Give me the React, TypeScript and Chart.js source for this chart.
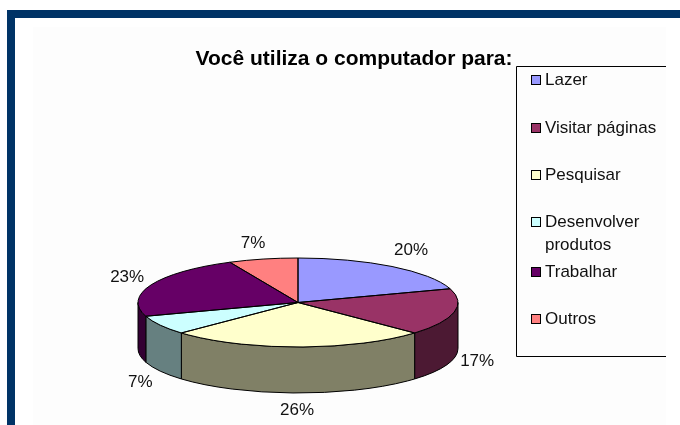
import React, { useEffect, useRef } from "react";
import { Chart, registerables } from "chart.js";

Chart.register(...registerables);

const categories = ["Lazer", "Visitar páginas", "Pesquisar", "Desenvolver produtos", "Trabalhar", "Outros"];
const legendLines = [["Lazer"], ["Visitar páginas"], ["Pesquisar"], ["Desenvolver", "produtos"], ["Trabalhar"], ["Outros"]];
const shares = [20, 17, 26, 7, 23, 7];
const topColors = ["#9999FF", "#993366", "#FFFFCC", "#CCFFFF", "#660066", "#FF8080"];
const sideColors = ["#4C4C80", "#4C1933", "#808066", "#668080", "#330033", "#804040"];

const titleText = "Você utiliza o computador para:";
const FONT = '"Liberation Sans", Arial, sans-serif';
const INK = "#111111";
const pieCenterY = 302.5;
const pieRadiusY = 44.5;
const pieDepth = 46;
const labelOffsets = [[19, -16], [23, 49], [-1, 63.5], [-20, 57], [-24, -8], [-10, -16]];
const legendRowsY = [80, 128, 175, 222, 272, 319];

function ellipsePoint(arc: any, angle: number) {
  return [arc.x + arc.outerRadius * Math.cos(angle), pieCenterY + pieRadiusY * Math.sin(angle)];
}

const framePlugin = {
  id: "frame",
  beforeDraw(chart: any) {
    const { ctx, width, height } = chart;
    ctx.save();
    ctx.fillStyle = "#ffffff";
    ctx.fillRect(0, 0, width, height);
    ctx.fillStyle = "#fdfdfd";
    ctx.fillRect(33, 27, 633, height - 27);
    ctx.fillStyle = "#003366";
    ctx.fillRect(7, 10, width - 7, 8);
    ctx.fillRect(7, 10, 8, height - 10);
    ctx.restore();
  },
};

const pie3dPlugin = {
  id: "pie3d",
  beforeDatasetsDraw(chart: any) {
    const { ctx } = chart;
    const arcs = chart.getDatasetMeta(0).data;
    ctx.save();
    ctx.lineWidth = 1;
    ctx.strokeStyle = "#000000";
    arcs.forEach((arc: any, i: number) => {
      // The walls show only on the front half of the ellipse (canvas angles 0..PI).
      const ranges = [[0, Math.PI], [2 * Math.PI, 3 * Math.PI]];
      ranges.forEach(([lo, hi]) => {
        const a = Math.max(arc.startAngle, lo);
        const b = Math.min(arc.endAngle, hi);
        if (b <= a) return;
        ctx.beginPath();
        ctx.ellipse(arc.x, pieCenterY, arc.outerRadius, pieRadiusY, 0, a, b);
        ctx.ellipse(arc.x, pieCenterY + pieDepth, arc.outerRadius, pieRadiusY, 0, b, a, true);
        ctx.closePath();
        ctx.fillStyle = sideColors[i];
        ctx.fill();
        ctx.stroke();
      });
    });
    ctx.restore();

    // Squash the library's own arcs into the tilted top face.
    const first = arcs[0];
    ctx.save();
    ctx.translate(first.x, pieCenterY);
    ctx.scale(1, pieRadiusY / first.outerRadius);
    ctx.translate(-first.x, -first.y);
  },
  afterDatasetsDraw(chart: any) {
    const { ctx } = chart;
    ctx.restore();
    const arcs = chart.getDatasetMeta(0).data;
    ctx.save();
    ctx.lineWidth = 1;
    ctx.strokeStyle = "#000000";
    arcs.forEach((arc: any) => {
      const [sx, sy] = ellipsePoint(arc, arc.startAngle);
      ctx.beginPath();
      ctx.moveTo(arc.x, pieCenterY);
      ctx.lineTo(sx, sy);
      ctx.ellipse(arc.x, pieCenterY, arc.outerRadius, pieRadiusY, 0, arc.startAngle, arc.endAngle);
      ctx.closePath();
      ctx.stroke();
    });
    // Percentage labels
    ctx.fillStyle = INK;
    ctx.font = `17px ${FONT}`;
    ctx.textAlign = "center";
    ctx.textBaseline = "middle";
    arcs.forEach((arc: any, i: number) => {
      const [mx, my] = ellipsePoint(arc, (arc.startAngle + arc.endAngle) / 2);
      ctx.fillText(`${shares[i]}%`, mx + labelOffsets[i][0], my + labelOffsets[i][1]);
    });
    ctx.restore();
  },
  afterDraw(chart: any) {
    const { ctx } = chart;
    ctx.save();
    ctx.fillStyle = "#000000";
    ctx.font = `bold 21px ${FONT}`;
    ctx.textAlign = "center";
    ctx.textBaseline = "middle";
    ctx.fillText(titleText, 354, 59);

    // Legend frame: the right side is cut off by the picture's crop.
    ctx.strokeStyle = "#000000";
    ctx.lineWidth = 1;
    ctx.beginPath();
    ctx.moveTo(666, 66.5);
    ctx.lineTo(516.5, 66.5);
    ctx.lineTo(516.5, 356.5);
    ctx.lineTo(666, 356.5);
    ctx.stroke();

    ctx.font = `17px ${FONT}`;
    ctx.textAlign = "left";
    legendLines.forEach((lines, i) => {
      const y = legendRowsY[i];
      ctx.fillStyle = topColors[i];
      ctx.fillRect(531, y - 4, 9, 9);
      ctx.strokeStyle = "#000000";
      ctx.strokeRect(531.5, y - 4.5, 9, 9);
      ctx.fillStyle = INK;
      lines.forEach((line, k) => ctx.fillText(line, 545, y + k * 23));
    });
    ctx.restore();
  },
};

export default function App() {
  const ref = useRef<HTMLCanvasElement>(null);
  useEffect(() => {
    const chart = new Chart(ref.current!, {
      type: "pie",
      data: {
        labels: categories,
        datasets: [{ data: shares, backgroundColor: topColors, borderWidth: 0 }],
      },
      options: {
        animation: false,
        responsive: false,
        layout: { padding: { left: 138, right: 222, top: 52.5, bottom: 52.5 } },
        plugins: { legend: { display: false }, title: { display: false }, tooltip: { enabled: false } },
      },
      plugins: [framePlugin, pie3dPlugin],
    } as any);
    return () => chart.destroy();
  }, []);
  return (
    <div style={{ position: "absolute", left: 0, top: 0 }}>
      <canvas ref={ref} width={680} height={425} style={{ display: "block" }} />
    </div>
  );
}
